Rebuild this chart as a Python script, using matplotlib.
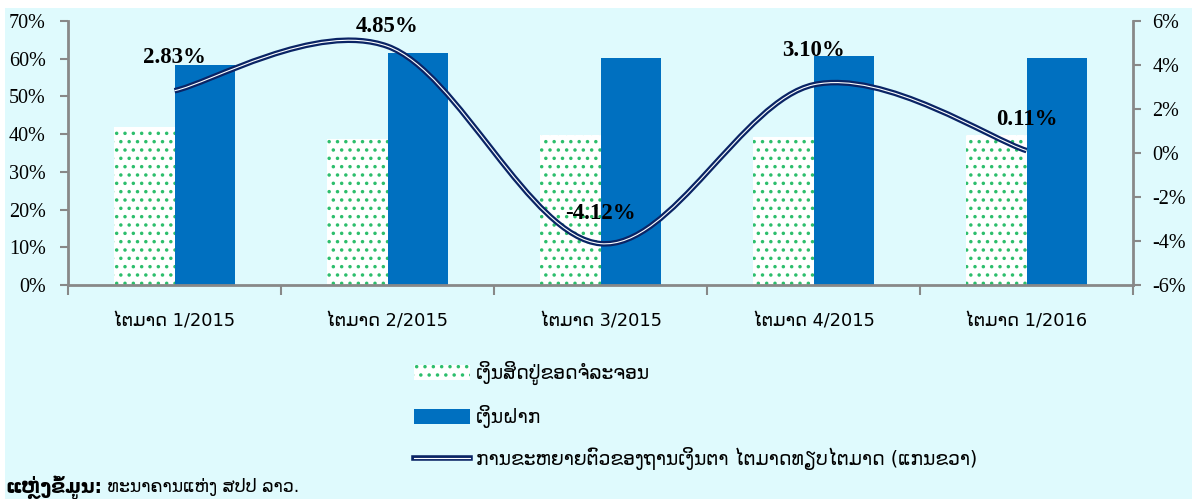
import matplotlib
matplotlib.use("Agg")
import matplotlib.pyplot as plt
import matplotlib.patheffects as pe
from matplotlib.patches import Patch, PathPatch, Rectangle
from matplotlib.lines import Line2D
from matplotlib.path import Path
import numpy as np

categories = ["ໄຕມາດ 1/2015", "ໄຕມາດ 2/2015", "ໄຕມາດ 3/2015", "ໄຕມາດ 4/2015", "ໄຕມາດ 1/2016"]
loans = [41.8, 38.7, 39.8, 39.2, 39.7]          # left axis, %
deposits = [58.3, 61.5, 60.1, 60.8, 60.2]       # left axis, %
growth = [2.83, 4.85, -4.12, 3.10, 0.11]        # right axis, %
growth_labels = ["2.83%", "4.85%", "-4.12%", "3.10%", "0.11%"]
left_ticks = [0, 10, 20, 30, 40, 50, 60, 70]
right_ticks = [-6, -4, -2, 0, 2, 4, 6]
legend_labels = ["ເງິນສິດປູ່ຂອດຈໍລະຈອນ", "ເງິນຝາກ",
                 "ການຂະຫຍາຍຕົວຂອງຖານເງິນຕາ ໄຕມາດທຽບໄຕມາດ (ແກນຂວາ)"]
source_bold = "ແຫຼ່ງຂໍ້ມູນ:"
source_text = " ທະນາຄານແຫ່ງ ສປປ ລາວ."

BG = "#DFFAFD"
BLUE = "#0070C0"
GREEN = "#2DBE6C"
NAVY = "#0A2465"
AXC = "#888888"
SERIF = ["Liberation Serif", "DejaVu Serif"]
LAO = ["DejaVu Sans"]

fig = plt.figure(figsize=(11.92, 4.99), dpi=100)
fig.patch.set_facecolor("white")
fig.patches.append(Rectangle((5 / 1192, 0), 1, 1 - 8 / 499, transform=fig.transFigure,
                             facecolor=BG, edgecolor="none", zorder=-10))

ax = fig.add_axes([68 / 1192, 1 - 285 / 499, (1133 - 68) / 1192, (285 - 21) / 499])
ax.set_facecolor(BG)
ax2 = ax.twinx()

x = np.arange(len(categories))
w = 0.285
plt.rcParams["hatch.linewidth"] = 1.3
ax.bar(x - w / 2, loans, width=w, facecolor="white", edgecolor=GREEN, hatch="..",
       linewidth=0, zorder=2)
ax.bar(x + w / 2, deposits, width=w, color=BLUE, linewidth=0, zorder=2)

ax.set_xlim(-0.5, len(categories) - 0.5)
ax.set_ylim(0, 70)
ax.set_yticks(left_ticks)
ax.set_yticklabels([f"{t}%" for t in left_ticks], fontfamily=SERIF, fontsize=14.5)
ax.set_xticks(np.arange(-0.5, len(categories), 1.0))
ax.set_xticklabels([])
ax.set_xticks(x, minor=True)
ax.set_xticklabels(categories, minor=True, fontfamily=LAO, fontsize=12.8)
ax.tick_params(axis="x", which="minor", length=0, pad=20)
ax.tick_params(axis="x", which="major", length=7, width=1.5, color=AXC)
ax.tick_params(axis="y", length=6, width=1.5, color=AXC, pad=10)

ax2.set_ylim(-6, 6)
ax2.set_yticks(right_ticks)
ax2.set_yticklabels([f"{t}%" for t in right_ticks], fontfamily=SERIF, fontsize=14.5)
ax2.tick_params(axis="y", length=6, width=1.5, color=AXC, pad=8)

for a in (ax, ax2):
    a.spines["top"].set_visible(False)
    for s in ("left", "right", "bottom"):
        a.spines[s].set_color(AXC)
        a.spines[s].set_linewidth(2)
ax.spines["right"].set_visible(False)
ax2.spines["left"].set_visible(False)
ax2.spines["bottom"].set_visible(False)

# smoothed line (Excel-like Bezier through the data points)
pts = list(zip(x.astype(float), growth))
n = len(pts)
verts = [pts[0]]
codes = [Path.MOVETO]
for i in range(n - 1):
    p0 = np.array(pts[max(i - 1, 0)])
    p1 = np.array(pts[i])
    p2 = np.array(pts[i + 1])
    p3 = np.array(pts[min(i + 2, n - 1)])
    c1 = p1 + (p2 - p0) / 6
    c2 = p2 - (p3 - p1) / 6
    verts += [tuple(c1), tuple(c2), tuple(p2)]
    codes += [Path.CURVE4] * 3
stroke = [pe.Stroke(linewidth=4.0, foreground=NAVY), pe.Normal()]
ax2.add_patch(PathPatch(Path(verts, codes), fill=False, edgecolor="white", linewidth=0.8,
                        path_effects=stroke, zorder=4, capstyle="butt"))

offsets = [24, 14, 22, 24.5, 22.5]
for xi, yi, lab, off in zip(x, growth, growth_labels, offsets):
    ax2.annotate(lab, (xi, yi), xytext=(0, off), textcoords="offset points",
                 ha="center", va="center", fontfamily=SERIF, fontsize=16.5,
                 fontweight="bold", zorder=5)

handles = [
    Patch(facecolor="white", edgecolor=GREEN, hatch="..", linewidth=0),
    Patch(facecolor=BLUE, edgecolor="none"),
    Line2D([], [], color="white", lw=0.8, path_effects=stroke),
]
leg = fig.legend(handles, legend_labels, loc="upper left",
                 bbox_to_anchor=(414 / 1192, 1 - 361 / 499), frameon=False,
                 prop={"family": LAO, "size": 13.5}, handlelength=3.0, handleheight=0.9,
                 handletextpad=0.3, labelspacing=1.05, borderaxespad=0, borderpad=0)

t1 = fig.text(5 / 1192, 1 - 487 / 499, source_bold, fontfamily=LAO, fontsize=13.5,
              fontweight="bold", va="center", ha="left")
fig.canvas.draw()
bb = t1.get_window_extent()
fig.text(bb.x1 / 1192, 1 - 487 / 499, source_text, fontfamily=LAO, fontsize=12.5,
         va="center", ha="left")

fig.savefig("out.png", dpi=100, facecolor=fig.get_facecolor())
